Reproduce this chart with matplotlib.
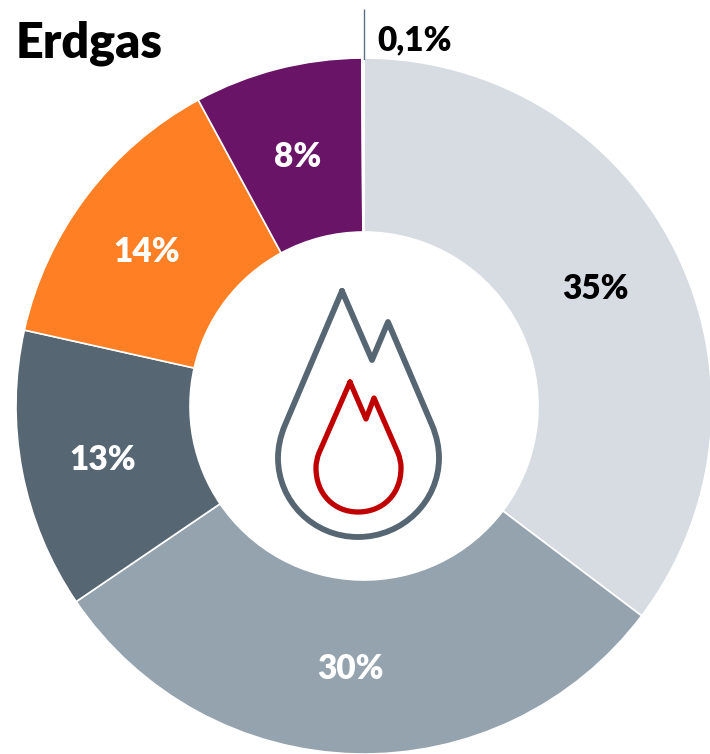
import matplotlib
matplotlib.use("Agg")
import matplotlib.pyplot as plt
from matplotlib.path import Path
from matplotlib.patches import PathPatch

plt.rcParams['font.family'] = ['Lato', 'DejaVu Sans']

labels = ["35%", "30%", "13%", "14%", "8%", "0,1%"]
values = [35.3, 30.2, 13.0, 13.6, 7.8, 0.1]
colors = ["#d6dce2", "#95a3ae", "#576673", "#ff7f24", "#6a1468", "#ffffff"]
text_colors = ["black", "white", "white", "white", "white", "black"]

# flame icon (pixels)
flame_outer = [(342, 291), (372, 360), (388, 322), (432, 425),
               (437, 437), (439, 448), (439, 458),
               (439, 501), (403, 537), (358, 537),
               (313, 537), (278, 501), (278, 458),
               (278, 448), (280, 437), (285, 425), (342, 291)]
flame_inner = [(350, 382), (366, 419), (374, 398), (398, 453),
               (400, 458), (401, 463), (401, 468),
               (401, 494), (383, 512), (358, 512),
               (334, 512), (316, 494), (316, 468),
               (316, 463), (317, 458), (319, 453), (350, 382)]
flame_codes = [Path.MOVETO, Path.LINETO, Path.LINETO, Path.LINETO,
               Path.CURVE4, Path.CURVE4, Path.CURVE4,
               Path.CURVE4, Path.CURVE4, Path.CURVE4,
               Path.CURVE4, Path.CURVE4, Path.CURVE4,
               Path.CURVE4, Path.CURVE4, Path.CURVE4, Path.LINETO]

fig = plt.figure(figsize=(7.10, 7.54), dpi=100)
ax = fig.add_axes([0, 0, 1, 1])

# y runs downwards here, so counterclock=True goes clockwise on screen
cx, cy = 364, 406
ax.pie(values, colors=colors, center=(cx, cy), radius=348,
       startangle=-90, counterclock=True, frame=False,
       wedgeprops=dict(width=174, edgecolor="white", linewidth=1.2))
ax.set_xlim(0, 710)
ax.set_ylim(754, 0)
ax.set_aspect("auto")
ax.axis("off")

label_pos = [(595, 289), (350, 669), (103, 460), (147, 252), (298, 157), (415, 40)]
for lab, c, p in zip(labels, text_colors, label_pos):
    ax.text(p[0], p[1], lab, color=c, fontsize=24, fontweight="heavy",
            ha="center", va="center")

ax.text(16, 43, "Erdgas", color="black", fontsize=35, fontweight="heavy",
        ha="left", va="center")

ax.plot([363.5, 363.5], [9, 60], color="#5a6f80", lw=1.0, solid_capstyle="butt")
ax.plot([363.5, 363.5], [60, 233], color="white", lw=1.4, solid_capstyle="butt")

ax.add_patch(PathPatch(Path(flame_outer, flame_codes), fill=False,
                       edgecolor="#576673", lw=4.2, joinstyle="round",
                       capstyle="round"))
ax.add_patch(PathPatch(Path(flame_inner, flame_codes), fill=False,
                       edgecolor="#c00000", lw=3.8, joinstyle="round",
                       capstyle="round"))

fig.savefig("out.png", dpi=100)
